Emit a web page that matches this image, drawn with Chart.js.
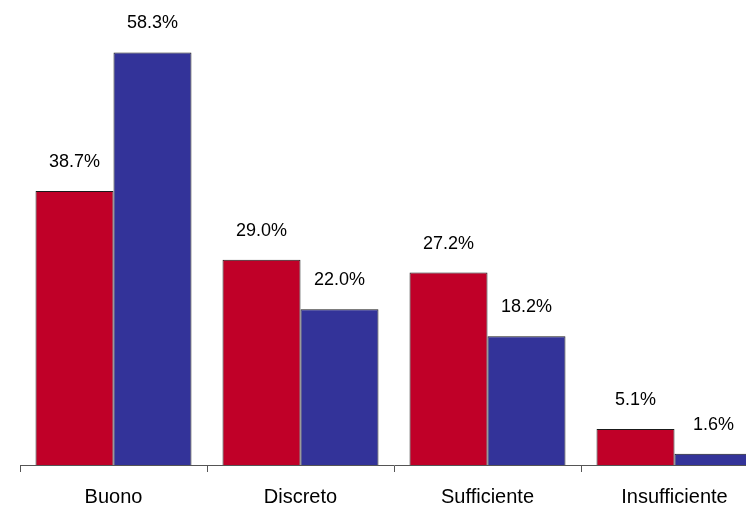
<!DOCTYPE html>
<html>
<head>
<meta charset="utf-8">
<script src="https://cdn.jsdelivr.net/npm/chart.js@4/dist/chart.umd.min.js"></script>
<style>
  html, body { margin: 0; padding: 0; background: #fff; overflow: hidden; }
  #wrap { width: 746px; height: 506px; overflow: hidden; }
</style>
</head>
<body>
<div id="wrap"><canvas id="barChart" width="780" height="522"></canvas></div>
<script>
// categories and values (percent)
const categories = ['Buono', 'Discreto', 'Sufficiente', 'Insufficiente'];
const redValues = [38.7, 29.0, 27.2, 5.1];
const blueValues = [58.3, 22.0, 18.2, 1.6];

// draws the "xx.x%" label above each bar
const valueLabels = {
    id: 'valueLabels',
    afterDatasetsDraw(chart) {
        const ctx = chart.ctx;
        ctx.save();
        ctx.font = '18px "Liberation Sans", Arial, sans-serif';
        ctx.fillStyle = '#000';
        ctx.textAlign = 'center';
        ctx.textBaseline = 'alphabetic';
        chart.data.datasets.forEach((ds, i) => {
            chart.getDatasetMeta(i).data.forEach((bar, j) => {
                ctx.fillText(ds.data[j].toFixed(1) + '%', bar.x, bar.y - 24);
            });
        });
        ctx.restore();
    }
};

new Chart(document.getElementById('barChart'), {
    type: 'bar',
    data: {
        labels: categories,
        datasets: [{
            data: redValues,
            backgroundColor: '#C00028',
            borderColor: '#1a1a1a',
            borderWidth: 1,
            categoryPercentage: 0.834,
            barPercentage: 1.0
        }, {
            data: blueValues,
            backgroundColor: '#333399',
            borderColor: '#1a1a1a',
            borderWidth: 1,
            categoryPercentage: 0.834,
            barPercentage: 1.0
        }]
    },
    options: {
        responsive: false,
        animation: false,
        layout: { padding: { left: 20, right: 12, top: 5, bottom: 0 } },
        plugins: { legend: { display: false }, tooltip: { enabled: false } },
        scales: {
            x: {
                grid: { drawOnChartArea: false, tickLength: 7, color: '#555' },
                border: { color: '#555', width: 1 },
                ticks: {
                    color: '#000',
                    padding: 13,
                    font: { family: '"Liberation Sans", Arial, sans-serif', size: 20 }
                }
            },
            y: {
                display: false,
                min: 0,
                max: 65
            }
        }
    },
    plugins: [valueLabels]
});
</script>
</body>
</html>
